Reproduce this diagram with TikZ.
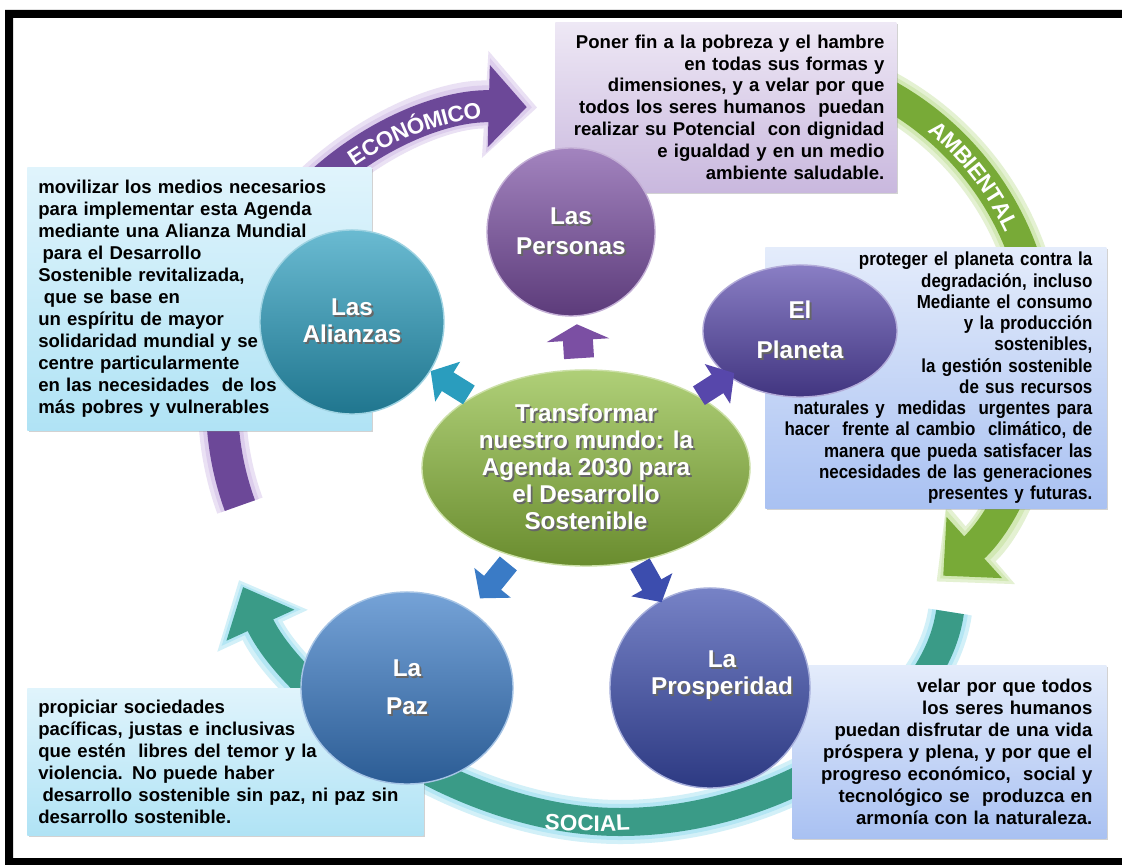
\documentclass[tikz,border=0pt]{standalone}
\usepackage{fontspec}
\setmainfont{Liberation Sans}
\newfontfamily\narrowfont[FakeStretch=0.9]{Liberation Sans}
\usetikzlibrary{shapes.geometric,arrows.meta,calc,shadows,decorations.text}

\definecolor{perscol}{HTML}{7B4FA3}
\definecolor{alicol}{HTML}{2A9DBE}
\definecolor{placol}{HTML}{5747AB}
\definecolor{ctrcol}{HTML}{8DBB3E}
\definecolor{pazcol}{HTML}{3A7BC6}
\definecolor{procol}{HTML}{3C4DAE}
\definecolor{ecocol}{HTML}{6C4898}
\definecolor{ambcol}{HTML}{78AA37}
\definecolor{soccol}{HTML}{3A9B87}
\definecolor{ecoglow}{HTML}{DCCDEC}
\definecolor{ambglow}{HTML}{D2E8B4}
\definecolor{socglow}{HTML}{B4E6F4}
\definecolor{cyanT}{HTML}{E0F4FC}
\definecolor{cyanB}{HTML}{B0E3F5}
\definecolor{lavT}{HTML}{EEE8F5}
\definecolor{lavB}{HTML}{C9B8DE}
\definecolor{bluT}{HTML}{E4ECFB}
\definecolor{bluB}{HTML}{A9C1F2}

\newcommand{\boxfont}{\fontsize{13.2}{15.6}\selectfont\bfseries}
\newcommand{\plafont}{\narrowfont\fontsize{13.4}{15.1}\selectfont\bfseries}
\newcommand{\lblfont}{\fontsize{17.3}{19.2}\selectfont\bfseries}
\newcommand{\bandfont}{\fontsize{16}{16}\selectfont\bfseries\color{white}}
\newcommand{\sh}[1]{\makebox[0pt][l]{\kern1.3pt\raisebox{-1.3pt}{\color{black!60}#1}}#1}

\begin{document}
\begin{tikzpicture}[x=0.025cm, y=-0.025cm,
  txtbox/.style={rectangle, anchor=north west, inner ysep=0pt,
    drop shadow={shadow xshift=1.5pt, shadow yshift=-1.5pt, opacity=.35}},
  cyanbox/.style={txtbox, top color=cyanT, bottom color=cyanB, align=left, font=\boxfont},
  lavbox/.style={txtbox, top color=lavT, bottom color=lavB, align=right, font=\boxfont},
  blubox/.style={txtbox, top color=bluT, bottom color=bluB, align=right, font=\boxfont},
  disc/.style={circle, inner sep=0pt, text=white, align=center, font=\lblfont,
    top color=#1!70!white, middle color=#1, bottom color=#1!75!black,
    draw=#1!45!white, line width=1pt},
  oval/.style={disc=#1, ellipse},
  lbl/.style={text=white, align=center, font=\lblfont, inner sep=0pt},
  blk/.style={line width=0.55cm, -{Triangle[width=1.15cm,length=0.5cm]}},
  blkup/.style={line width=0.75cm, -{Triangle[width=1.55cm,length=0.4cm]}},
  bandtxt/.style={decorate, decoration={text along path, text={|\bandfont|#1},
    text align=center, raise=-5.8pt}}
]

\fill[white] (0,0) rectangle (1122,865);
\useasboundingbox (0,0) rectangle (1122,865);
\fill[black, even odd rule] (5,10) rectangle (1122,865) (13,18) rectangle (1122,858);

% cycle arrows
\coordinate (ecoC) at (519,404);
\coordinate (ambC) at (743,355);

\draw[ecoglow!60!white, line width=1.2cm, -{Triangle[width=2.6cm,length=1.3cm]}]
  ([shift={(160:297)}]ecoC) arc[start angle=160, end angle=273.5, radius=297];
\draw[ecoglow, line width=1cm, -{Triangle[width=2.3cm,length=1.1cm]}]
  ([shift={(160:297)}]ecoC) arc[start angle=160, end angle=272.5, radius=297];
\draw[ambglow!60!white, line width=1.15cm, -{Triangle[width=2.55cm,length=1.45cm]}]
  ([shift={(-63:298)}]ambC) arc[start angle=-63, end angle=49.5, radius=298];
\draw[ambglow, line width=0.95cm, -{Triangle[width=2.3cm,length=1.25cm]}]
  ([shift={(-63:298)}]ambC) arc[start angle=-63, end angle=48.6, radius=298];
\draw[socglow!60!white, line width=1.1cm, -{Triangle[width=2.4cm,length=1.4cm]}]
  (950,612) .. controls (935,720) and (780,822) .. (620,822)
  .. controls (450,822) and (290,690) .. (239,580);
\draw[socglow, line width=0.9cm, -{Triangle[width=2.1cm,length=1.2cm]}]
  (950,612) .. controls (935,720) and (780,822) .. (620,822)
  .. controls (450,822) and (290,690) .. (241,584);

\draw[ecocol, line width=0.8cm, -{Triangle[width=2cm,length=0.95cm]}]
  ([shift={(160:297)}]ecoC) arc[start angle=160, end angle=271.5, radius=297];
\draw[ambcol, line width=0.75cm, -{Triangle[width=2cm,length=1.05cm]}]
  ([shift={(-63:298)}]ambC) arc[start angle=-63, end angle=47.8, radius=298];
\draw[soccol, line width=0.7cm, -{Triangle[width=1.8cm,length=1.05cm]}]
  (950,612) .. controls (935,720) and (780,822) .. (620,822)
  .. controls (450,822) and (290,690) .. (243,587);

\path[bandtxt=ECONÓMICO]
  ([shift={(230:297)}]ecoC) arc[start angle=230, end angle=268, radius=297];
\path[bandtxt=AMBIENTAL]
  ([shift={(-57:298)}]ambC) arc[start angle=-57, end angle=-18.6, radius=298];
\path[bandtxt=SOCIAL] (500,815) .. controls (555,825) and (620,825) .. (675,818);

% text boxes
\node[cyanbox, inner xsep=0.275cm, text width=8.05cm, minimum height=6.575cm]
  (aliTxt) at (27,167) {movilizar los medios necesarios\\
  para implementar esta Agenda\\
  mediante una Alianza Mundial\\
  \hspace*{3pt}para el Desarrollo\\
  Sostenible revitalizada,\\
  \hspace*{4pt}que se base en\\
  un espíritu de mayor\\
  solidaridad mundial y se\\
  centre particularmente\\
  en las necesidades\ \ de los\\
  más pobres y vulnerables};

\node[lavbox, inner xsep=0.3cm, text width=7.925cm, minimum height=4.25cm]
  (persTxt) at (555,22) {Poner fin a la pobreza y el hambre\\
  en todas sus formas y\\
  dimensiones, y a velar por que\\
  todos los seres humanos\ \ puedan\\
  realizar su Potencial\ \ con dignidad\\
  e igualdad y en un medio\\
  ambiente saludable.};

\node[blubox, font=\plafont, inner xsep=0.35cm, text width=7.825cm, minimum height=6.525cm]
  (plaTxt) at (765,247) {proteger el planeta contra la\\
  degradación, incluso\\
  Mediante el consumo\\
  y la producción\\
  sostenibles,\\
  la gestión sostenible\\
  de sus recursos\\
  naturales y\ \ medidas\ \ urgentes para\\
  hacer\ \ frente al cambio\ \ climático, de\\
  manera que pueda satisfacer las\\
  necesidades de las generaciones\\
  presentes y futuras.};

\node[blubox, inner xsep=0.35cm, text width=7.15cm, minimum height=4.325cm]
  (proTxt) at (792,665) {velar por que todos\\
  los seres humanos\\
  puedan disfrutar de una vida\\
  próspera y plena, y por que el\\
  progreso económico,\ \ social y\\
  tecnológico se\ \ produzca en\\
  armonía con la naturaleza.};

\node[cyanbox, inner xsep=0.275cm, text width=9.35cm, minimum height=3.675cm]
  (pazTxt) at (27,688) {propiciar sociedades\\
  pacíficas, justas e inclusivas\\
  que estén\ \ libres del temor y la\\
  violencia. No puede haber\\
  \hspace*{3pt}desarrollo sostenible sin paz, ni paz sin\\
  desarrollo sostenible.};

% center and circles
\node[oval=ctrcol, minimum width=8.2cm, minimum height=4.9cm] (ctr) at (586,468)
  {\sh{Transformar}\\\sh{nuestro mundo: la}\\\sh{Agenda 2030 para}\\
   \sh{el Desarrollo}\\\sh{Sostenible}};
\node[disc=perscol, minimum size=4.2cm] (pers) at (571,232) {\sh{Las}\\[2pt]\sh{Personas}};
\node[disc=alicol, minimum size=4.6cm] (ali) at (352,322) {\sh{Las}\\\sh{Alianzas}};
\node[oval=placol, minimum width=4.85cm, minimum height=3.3cm] (pla) at (800,331)
  {\sh{El}\\[9pt]\sh{Planeta}};
\node[oval=pazcol, minimum width=5.3cm, minimum height=4.8cm] (paz) at (407,688)
  {\sh{La}\\[8pt]\sh{Paz}};
\node[disc=procol, minimum size=5cm] (pro) at (710,688) {};
\node[lbl] (proLbl) at ($(pro)+(12,-12)$) {\sh{La}\\\sh{Prosperidad}};

% arrows out of the center
\draw[blkup, perscol] ($(ctr)!2.75cm!(pers)$) -- ($(ctr)!3.6cm!(pers)$);
\draw[blk, alicol] ($(ctr)!3.45cm!(ali)$) -- ($(ctr)!4.575cm!(ali)$);
\draw[blk, placol] ($(ctr)!3.35cm!(pla)$) -- ($(ctr)!4.4cm!(pla)$);
\draw[blk, pazcol] ($(ctr)!3.075cm!(paz)$) -- ($(ctr)!4.2cm!(paz)$);
\draw[blk, procol] ($(ctr)!2.75cm!(pro)$) -- ($(ctr)!3.85cm!(pro)$);

\end{tikzpicture}
\end{document}
